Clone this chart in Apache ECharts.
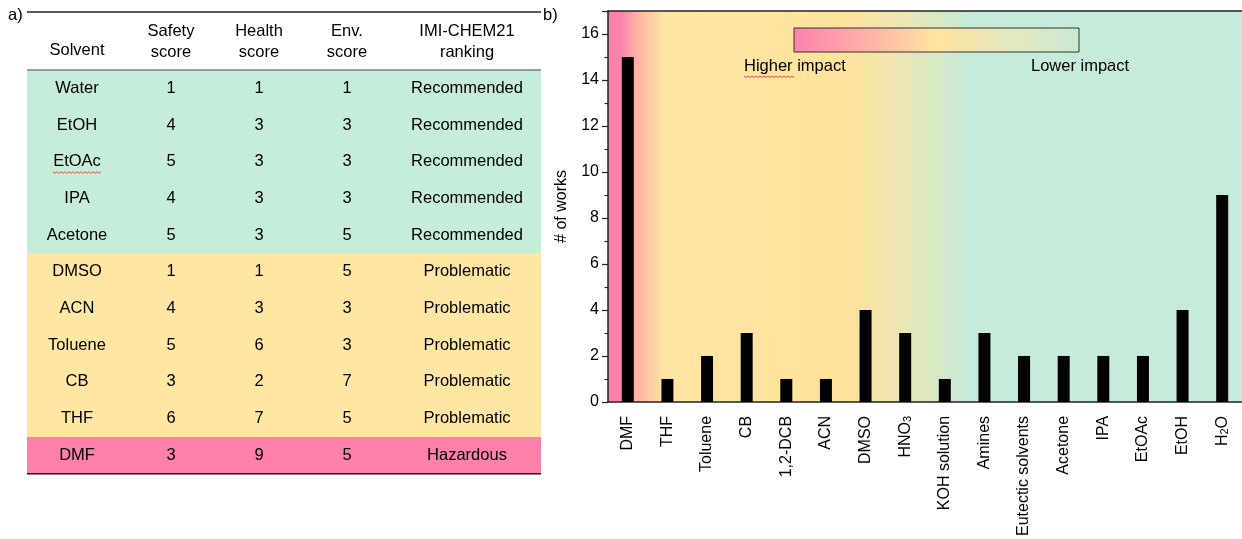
<!DOCTYPE html>
<html>
<head>
<meta charset="utf-8">
<script src="https://cdn.jsdelivr.net/npm/echarts@6/dist/echarts.min.js"></script>
<style>html,body{margin:0;padding:0;background:#fff}#c{width:1242px;height:539px}</style>
</head>
<body>
<div id="c"></div>
<script>
// ---- Table (a) data ----
const tableHeaders = [['Solvent'], ['Safety', 'score'], ['Health', 'score'], ['Env.', 'score'], ['IMI-CHEM21', 'ranking']];
const tableSolvents = ['Water', 'EtOH', 'EtOAc', 'IPA', 'Acetone', 'DMSO', 'ACN', 'Toluene', 'CB', 'THF', 'DMF'];
const safetyScores = [1, 4, 5, 4, 5, 1, 4, 5, 3, 6, 3];
const healthScores = [1, 3, 3, 3, 3, 1, 3, 6, 2, 7, 9];
const envScores = [1, 3, 3, 3, 5, 5, 3, 3, 7, 5, 5];
const rankings = ['Recommended', 'Recommended', 'Recommended', 'Recommended', 'Recommended',
  'Problematic', 'Problematic', 'Problematic', 'Problematic', 'Problematic', 'Hazardous'];

// ---- Bar chart (b) data ----
const barCategories = ['DMF', 'THF', 'Toluene', 'CB', '1,2-DCB', 'ACN', 'DMSO', 'HNO3', 'KOH solution',
  'Amines', 'Eutectic solvents', 'Acetone', 'IPA', 'EtOAc', 'EtOH', 'H2O'];
const barValues = [15, 1, 2, 3, 1, 1, 4, 3, 1, 3, 2, 2, 2, 2, 4, 9];
const yTicks = [0, 2, 4, 6, 8, 10, 12, 14, 16];

const FONT = 'Liberation Sans, Arial, sans-serif';
const TF = '16.5px ' + FONT;
const rankColor = { Recommended: '#C6ECDA', Problematic: '#FFE6A3', Hazardous: '#FC80AB' };

// table layout
const T = { left: 27, right: 541, top: 12, headBottom: 70, rowH: 36.7 };
const colX = [77, 171, 259, 347, 467];

function wavy(x, y, w) {
  const pts = [];
  for (let k = 0; k <= w / 2; k++) pts.push([x + k * 2, y + (k % 2 ? 1.5 : 0)]);
  return { type: 'polyline', shape: { points: pts }, style: { stroke: '#E0443C', lineWidth: 0.9, fill: null }, z: 6, silent: true };
}

const graphics = [];
tableSolvents.forEach((s, i) => {
  const y0 = T.headBottom + i * T.rowH;
  graphics.push({ type: 'rect', shape: { x: T.left, y: y0, width: T.right - T.left, height: T.rowH + 0.5 },
    style: { fill: rankColor[rankings[i]] }, silent: true, z: 0 });
  const cells = [s, safetyScores[i], healthScores[i], envScores[i], rankings[i]];
  cells.forEach((c, j) => {
    graphics.push({ type: 'text', x: colX[j], y: y0 + T.rowH / 2, z: 2,
      style: { text: String(c), font: TF, fill: '#000', textAlign: 'center', textVerticalAlign: 'middle' } });
  });
  if (s === 'EtOAc') graphics.push(wavy(colX[0] - 24, y0 + T.rowH / 2 + 10, 48));
});
tableHeaders.forEach((h, j) => {
  if (h.length === 1) {
    graphics.push({ type: 'text', x: colX[j], y: 50, z: 2,
      style: { text: h[0], font: TF, fill: '#000', textAlign: 'center', textVerticalAlign: 'middle' } });
  } else {
    graphics.push({ type: 'text', x: colX[j], y: 31, z: 2,
      style: { text: h[0], font: TF, fill: '#000', textAlign: 'center', textVerticalAlign: 'middle' } });
    graphics.push({ type: 'text', x: colX[j], y: 52, z: 2,
      style: { text: h[1], font: TF, fill: '#000', textAlign: 'center', textVerticalAlign: 'middle' } });
  }
});
const tableBottom = T.headBottom + tableSolvents.length * T.rowH;
[[T.top, 1.5, '#222'], [T.headBottom, 1, '#444'], [tableBottom, 1.5, '#222']].forEach(([y, w, c]) => {
  graphics.push({ type: 'line', shape: { x1: T.left, y1: y, x2: T.right, y2: y }, style: { stroke: c, lineWidth: w }, z: 3 });
});
graphics.push({ type: 'text', x: 8, y: 15, style: { text: 'a)', font: TF, fill: '#000', textVerticalAlign: 'middle' } });
graphics.push({ type: 'text', x: 543, y: 15, style: { text: 'b)', font: TF, fill: '#000', textVerticalAlign: 'middle' } });

// legend gradient bar
graphics.push({ type: 'rect', shape: { x: 794, y: 28, width: 285, height: 24 }, z: 5,
  style: { stroke: '#333', lineWidth: 1,
    fill: new echarts.graphic.LinearGradient(0, 0, 1, 0, [
      { offset: 0, color: '#FC82AC' }, { offset: 0.3, color: '#FFB9A6' },
      { offset: 0.49, color: '#FFE39D' }, { offset: 0.75, color: '#E4E8BE' }, { offset: 1, color: '#C8EAD6' }]) } });
graphics.push({ type: 'text', x: 744, y: 66, z: 5, style: { text: 'Higher impact', font: TF, fill: '#000', textVerticalAlign: 'middle' } });
graphics.push(wavy(744, 76, 50));
graphics.push({ type: 'text', x: 1031, y: 66, z: 5, style: { text: 'Lower impact', font: TF, fill: '#000', textVerticalAlign: 'middle' } });

const chart = echarts.init(document.getElementById('c'), null, { renderer: 'canvas' });

function fmtLabel(v) {
  if (v === 'H2O') return '{n|H}{s|2}{n|O}';
  if (v === 'HNO3') return '{n|HNO}{s|3}';
  return '{n|' + v + '}';
}

chart.setOption({
  animation: false,
  backgroundColor: '#fff',
  grid: {
    left: 608, top: 11, width: 645, height: 393, show: true, borderWidth: 0,
    backgroundColor: new echarts.graphic.LinearGradient(0, 0, 1, 0, [
      { offset: 0, color: '#FB80AB' }, { offset: 0.022, color: '#FC84AB' },
      { offset: 0.045, color: '#FEB2A4' }, { offset: 0.09, color: '#FFE6A2' },
      { offset: 0.37, color: '#FFE39C' }, { offset: 0.46, color: '#EDE6B2' },
      { offset: 0.57, color: '#C6EBD8' }, { offset: 1, color: '#C6EBD8' }])
  },
  xAxis: [{
    type: 'category', data: barCategories, position: 'bottom',
    axisLine: { lineStyle: { color: '#222', width: 1.5 } },
    axisTick: { alignWithLabel: true, length: 5, lineStyle: { color: '#222', width: 1.2 } },
    axisLabel: { rotate: 90, margin: 14, interval: 0, color: '#000', fontSize: 16, fontFamily: FONT,
      formatter: fmtLabel,
      rich: { n: { fontSize: 16, fontFamily: FONT, color: '#000' },
              s: { fontSize: 11, fontFamily: FONT, color: '#000', verticalAlign: 'bottom', padding: [6, 0, 0, 0] } } }
  }, {
    type: 'category', data: barCategories, position: 'top',
    axisLine: { show: true, lineStyle: { color: '#222', width: 1.5 } },
    axisTick: { show: false }, axisLabel: { show: false }
  }],
  yAxis: {
    type: 'value', min: 0, max: 17, interval: 2,
    name: '# of works', nameLocation: 'middle', nameGap: 38,
    nameTextStyle: { fontSize: 16, fontFamily: FONT, color: '#000' },
    axisLine: { show: true, lineStyle: { color: '#222', width: 1.5 } },
    axisTick: { show: true, length: 6, lineStyle: { color: '#222', width: 1.2 } },
    minorTick: { show: true, splitNumber: 2, length: 3.5, lineStyle: { color: '#222', width: 1.2 } },
    splitLine: { show: false },
    axisLabel: { color: '#000', fontSize: 16, fontFamily: FONT, margin: 9, showMaxLabel: false,
      formatter: v => (yTicks.indexOf(v) >= 0 ? String(v) : '') }
  },
  series: [{
    type: 'bar', data: barValues, barWidth: 12, xAxisIndex: 0,
    itemStyle: { color: '#000' }, silent: true
  }],
  graphic: graphics
});
</script>
</body>
</html>
